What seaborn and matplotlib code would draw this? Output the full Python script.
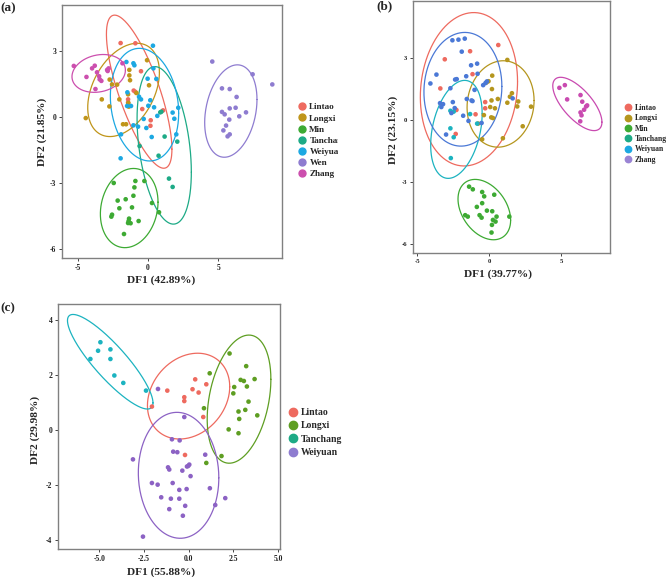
import numpy as np
import pandas as pd
import matplotlib
matplotlib.use("Agg")
import matplotlib.pyplot as plt
import seaborn as sns
from matplotlib.lines import Line2D
from matplotlib.patches import Rectangle

# ---------------- data: panel (a) ----------------
A_GROUPS = ["Lintao", "Longxi", "Min", "Tanchang", "Weiyuan", "Wen", "Zhang"]
A_X = {
    "Lintao": [-1.95, -0.90, -0.50, -1.02, -0.90, -1.42, -1.42, -0.41, 1.07, 0.19, 0.17],
    "Longxi": [-0.07, -1.33, -1.33, -2.73, -1.28, -2.56, -2.20, -1.42, -3.29, -2.04, -2.75,
               -1.40, -1.37, -4.43, -1.78, -1.56, 0.07, -0.83],
    "Min": [-2.44, -0.90, -0.26, -0.97, -1.04, -2.16, -1.59, -2.04, -1.14, 0.28, 0.78,
            -2.56, -2.61, -1.35, -1.38, -1.24, -1.42, -0.67, -1.71],
    "Tanchang": [0.87, 0.95, 1.18, 2.08, 0.75, -0.60, 1.49, 1.75],
    "Weiyuan": [0.35, -1.54, -1.04, -0.97, -0.03, 0.59, -1.47, -1.49, -1.21, -0.64, -0.50,
                0.16, 0.02, 0.43, 0.66, 1.75, 2.15, 1.87, -0.31, -1.04, -0.71, -0.12,
                0.26, 2.01, -1.92, -1.95, 0.38],
    "Wen": [4.57, 5.26, 5.81, 7.44, 8.84, 6.30, 5.81, 6.23, 5.26, 5.45, 6.97, 6.49, 5.78,
            5.55, 5.36, 5.81, 5.66],
    "Zhang": [-5.28, -4.38, -3.98, -3.79, -3.63, -3.48, -3.44, -3.32, -3.74, -2.91, -2.80,
              -2.87, -1.82],
}
A_Y = {
    "Lintao": [3.36, 3.35, 2.08, 1.20, 1.14, 0.80, 0.65, 0.36, 0.30, -0.15, -0.40],
    "Longxi": [2.58, 2.14, 1.89, 1.70, 1.67, 1.48, 1.47, 1.03, 0.80, 0.80, 0.48,
               0.64, 0.47, -0.05, -0.33, -0.33, 1.44, 1.09],
    "Min": [-3.00, -2.91, -2.91, -3.20, -3.58, -3.80, -3.74, -4.15, -4.11, -3.91, -4.33,
            -4.44, -4.53, -4.62, -4.73, -4.83, -4.82, -4.73, -5.32],
    "Tanchang": [0.21, 0.24, -0.89, -1.12, -1.76, -1.32, -2.80, -3.18],
    "Weiyuan": [3.24, 2.50, 2.44, 2.35, 1.74, 1.73, 1.12, 0.50, 0.50, 0.92, 0.80,
                0.76, 0.51, 0.44, 0.05, 0.20, 0.42, -0.08, -0.09, -0.38, -0.44, -0.50,
                -0.91, -0.79, -0.79, -1.88, 2.21],
    "Wen": [2.52, 1.30, 1.27, 1.94, 1.48, 0.91, 0.39, 0.42, 0.23, 0.12, 0.21, 0.03, -0.12,
            -0.39, -0.61, -0.79, -0.88],
    "Zhang": [2.32, 1.82, 2.21, 2.33, 2.03, 1.85, 1.71, 1.64, 1.27, 2.14, 2.21, 2.09, 2.44],
}
# ellipse: centre x, centre y, half x-extent, half y-extent, correlation
A_ELLIPSE = {
    "Lintao": (-0.63, 1.15, 2.33, 3.48, -0.75),
    "Longxi": (-1.74, 1.23, 2.55, 2.12, 0.38),
    "Min": (-1.34, -4.14, 2.05, 1.80, 0.15),
    "Tanchang": (1.15, -1.29, 1.93, 3.58, -0.34),
    "Weiyuan": (-0.25, 0.56, 2.43, 2.56, -0.15),
    "Wen": (5.89, 0.27, 1.86, 2.10, 0.25),
    "Zhang": (-3.51, 1.98, 1.90, 0.86, 0.17),
}
A_COLORS = ["#EE6A5F", "#C0951A", "#3DAA33", "#1DAA86", "#1CA8E2", "#8E7CD0", "#CC4FAE"]
A_XTICKS = [-5, 0, 5]
A_YTICKS = [-6, -3, 0, 3]

# ---------------- data: panel (b) ----------------
B_GROUPS = ["Lintao", "Longxi", "Min", "Tanchang", "Weiyuan", "Zhang"]
B_X = {
    "Lintao": [0.63, -1.33, -3.09, -3.40, -1.16, -2.28, -2.33, -0.95, -0.28, -0.28],
    "Longxi": [1.26, 0.21, -0.19, -0.05, 0.19, 0.60, 0.16, 0.07, 0.40, 0.14, 0.26, -0.37,
               -0.77, -0.49, 0.95, 2.33, 2.91, 2.02, 1.95, 1.58, 1.44, 1.26],
    "Min": [-1.40, -1.14, -0.49, -0.35, 0.35, -0.49, -0.86, -0.16, -0.67, -0.53, 0.21,
            0.26, 0.51, 0.44, 0.19, 0.16, -1.67, -1.49, 1.40],
    "Tanchang": [-2.70, -2.70, -2.47, -2.67, -0.84, -1.33, -2.47],
    "Weiyuan": [-1.70, -2.14, -2.56, -1.91, -1.26, -0.84, -0.81, -3.67, -4.09, -2.37,
                -2.26, -2.70, -1.60, -1.02, -0.42, -0.26, -0.16, -1.56, -1.23, -1.16,
                1.63, -3.42, -3.21, -3.33, -2.53, -1.81, -1.44, -0.53, -3.00, -2.40, -2.63],
    "Zhang": [4.88, 5.26, 5.42, 6.35, 6.47, 6.74, 6.81, 6.60, 6.35, 6.42, 6.33],
}
B_Y = {
    "Lintao": [3.61, 3.31, 2.92, 1.51, 2.20, 0.47, -0.69, 0.26, 0.85, 0.55],
    "Longxi": [2.89, 2.13, 1.80, 1.86, 1.48, 1.00, 0.93, 0.61, 0.55, 0.11, 0.08, 0.22,
               -0.19, -0.95, -0.90, -0.32, 0.63, 0.88, 0.64, 1.28, 1.11, 0.82],
    "Min": [-3.24, -3.37, -3.50, -3.71, -3.63, -4.04, -4.22, -4.40, -4.62, -4.74, -4.43,
            -4.85, -4.69, -4.93, -5.09, -5.46, -4.62, -4.69, -4.69],
    "Tanchang": [0.43, -0.42, -0.85, -1.86, -0.19, 0.27, 0.39],
    "Weiyuan": [3.92, 3.87, 3.84, 3.29, 2.63, 2.71, 2.22, 2.18, 1.75, 1.94,
                1.96, 1.52, 2.10, 1.44, 1.67, 1.77, 1.85, 1.00, 0.93, 0.90,
                1.03, 0.80, 0.75, 0.61, 0.85, 0.19, -0.06, -0.16, -0.72, 0.56, 0.32],
    "Zhang": [1.54, 1.67, 0.98, 1.19, 0.87, 0.64, 0.69, 0.48, 0.35, 0.21, -0.08],
}
B_ELLIPSE = {
    "Lintao": (-1.41, 1.47, 3.38, 3.71, 0.10),
    "Longxi": (0.79, 0.76, 2.33, 2.09, 0.08),
    "Min": (-0.34, -4.35, 1.83, 1.46, -0.35),
    "Tanchang": (-2.28, -0.47, 1.79, 2.37, 0.32),
    "Weiyuan": (-1.83, 1.47, 2.71, 2.75, 0.05),
    "Zhang": (6.13, 0.76, 1.71, 1.29, -0.68),
}
B_COLORS = ["#EE6A5F", "#B5961E", "#3DAA33", "#1CB3C0", "#4A78D6", "#C94AB0"]
B_LEGEND_COLORS = ["#EE6A5F", "#B5961E", "#3DAA33", "#1DAA86", "#1CA8E2", "#9A84D4"]
B_XTICKS = [-5, 0, 5]
B_YTICKS = [-6, -3, 0, 3]

# ---------------- data: panel (c) ----------------
C_GROUPS = ["Lintao", "Longxi", "Tanchang", "Weiyuan"]
C_X = {
    "Lintao": [-2.06, -1.20, 0.36, 0.21, 0.55, -0.25, -0.25, 0.98, 0.81, -0.21],
    "Longxi": [1.17, 2.28, 3.21, 2.90, 3.08, 3.68, 2.54, 2.49, 3.25, 3.34, 0.85, 2.78,
               3.16, 3.83, 2.82, 2.23, 2.78, 1.83, 0.98],
    "Tanchang": [-4.94, -5.07, -4.38, -5.50, -4.38, -4.16, -3.66, -2.39],
    "Weiyuan": [-1.72, -0.25, -0.94, -0.51, -0.87, -0.64, -3.12, 0.92, -1.16, -1.09, 0.03,
                -0.03, -0.10, -0.36, 0.10, -2.06, -1.74, -0.90, -0.53, -0.12, 1.18, -1.54,
                -1.00, -0.53, 1.48, -1.09, -0.20, -0.33, 2.04, -2.56],
}
C_Y = {
    "Lintao": [0.85, 1.43, 1.84, 1.48, 1.36, 1.19, 1.05, 1.66, 0.47, -0.91],
    "Longxi": [2.06, 2.78, 2.32, 1.82, 1.78, 1.85, 1.56, 1.33, 1.58, 1.03, 0.79, 0.67,
               0.73, 0.53, 0.40, 0.02, -0.12, -0.95, -1.20],
    "Tanchang": [3.19, 2.88, 2.93, 2.58, 2.58, 1.98, 1.71, 1.43],
    "Weiyuan": [1.49, 0.47, -0.34, -0.38, -0.79, -0.81, -1.07, -0.90, -1.36, -1.44, -1.26,
                -1.31, -1.33, -1.48, -1.68, -1.93, -1.99, -1.93, -2.18, -2.15, -2.12, -2.45,
                -2.50, -2.50, -2.73, -2.88, -2.76, -3.12, -2.48, -3.88],
}
C_ELLIPSE = {
    "Lintao": (-0.01, 1.23, 2.30, 1.56, 0.22),
    "Longxi": (2.81, 1.12, 1.78, 2.33, 0.31),
    "Tanchang": (-4.39, 2.48, 2.39, 1.72, -0.87),
    "Weiyuan": (-0.57, -1.65, 2.25, 2.29, -0.04),
}
C_COLORS = ["#EE6A5F", "#5E9E22", "#1CB3C0", "#8C62C4"]
C_LEGEND_COLORS = ["#EE6A5F", "#5E9E22", "#1DAA86", "#8E7CD0"]
C_XTICKS = [-5.0, -2.5, 0.0, 2.5, 5.0]
C_YTICKS = [-4, -2, 0, 2, 4]

# ---------------- style ----------------
sns.set_theme(style="white")
plt.rcParams["font.family"] = ["Liberation Serif", "DejaVu Serif"]
plt.rcParams["font.weight"] = "bold"

W, H = 669, 577
fig = plt.figure(figsize=(W / 100, H / 100), dpi=100)


def px_axes(l, t, r, b):
    return fig.add_axes([l / W, 1 - b / H, (r - l) / W, (b - t) / H])


def draw_panel(ax, groups, xs, ys, ell, colors, xlim, ylim, xticks, yticks, xfmt, yfmt, tfs):
    rows = []
    for g in groups:
        for xv, yv in zip(xs[g], ys[g]):
            rows.append((g, xv, yv))
    df = pd.DataFrame(rows, columns=["group", "x", "y"])
    pal = dict(zip(groups, colors))
    for g in groups:
        cx, cy, wx, wy, rho = ell[g]
        t = np.linspace(0, 2 * np.pi, 300)
        ex = cx + wx * np.cos(t)
        ey = cy + wy * (rho * np.cos(t) + np.sqrt(1 - rho ** 2) * np.sin(t))
        ax.plot(ex, ey, color=pal[g], lw=0.9, zorder=2)
    sns.scatterplot(data=df, x="x", y="y", hue="group", palette=pal, s=11,
                    linewidth=0, legend=False, ax=ax, zorder=3)
    ax.set_xlim(*xlim)
    ax.set_ylim(*ylim)
    ax.set_xticks(xticks)
    ax.set_yticks(yticks)
    ax.set_xticklabels([xfmt.format(v) for v in xticks], fontsize=tfs, fontweight="bold")
    ax.set_yticklabels([yfmt.format(v) for v in yticks], fontsize=tfs, fontweight="bold")
    ax.set_xlabel("")
    ax.set_ylabel("")
    ax.tick_params(axis="both", which="both", direction="out", length=2.5, width=0.7,
                   color="#444444", labelcolor="#222222", pad=1.5, bottom=True, left=True)
    for sp in ax.spines.values():
        sp.set_color("#808080")
        sp.set_linewidth(1.0)
    ax.set_facecolor("white")


def add_legend(ax, groups, colors, x, y, fs, ms, spacing):
    handles = [Line2D([], [], marker="o", ls="", color=c, markersize=ms) for c in colors]
    ax.legend(handles, groups, loc="upper left", bbox_to_anchor=(x / W, 1 - y / H),
              bbox_transform=fig.transFigure, frameon=False, borderpad=0,
              borderaxespad=0, handlelength=1.0, handletextpad=0.35,
              labelspacing=spacing, prop={"family": "Liberation Serif", "weight": "bold", "size": fs})


# panel (a)
ax_a = px_axes(62, 5, 282, 258)
draw_panel(ax_a, A_GROUPS, A_X, A_Y, A_ELLIPSE, A_COLORS, (-6.12, 9.53), (-6.41, 5.09),
           A_XTICKS, A_YTICKS, "{:g}", "{:g}", 5.5)
add_legend(ax_a, A_GROUPS, A_COLORS, 297, 103, 6.6, 5.0, 0.3)

# panel (b)
ax_b = px_axes(413, 1, 610, 253)
draw_panel(ax_b, B_GROUPS, B_X, B_Y, B_ELLIPSE, B_COLORS, (-5.3, 8.4), (-6.45, 5.74),
           B_XTICKS, B_YTICKS, "{:g}", "{:g}", 4.8)
add_legend(ax_b, B_GROUPS, B_LEGEND_COLORS, 624, 104, 5.6, 4.6, 0.3)

# panel (c)
ax_c = px_axes(58, 304, 280, 549)
draw_panel(ax_c, C_GROUPS, C_X, C_Y, C_ELLIPSE, C_COLORS, (-7.31, 5.1), (-4.33, 4.58),
           C_XTICKS, C_YTICKS, "{:.1f}", "{:g}", 5.5)
add_legend(ax_c, C_GROUPS, C_LEGEND_COLORS, 288, 408, 7.0, 6.0, 0.45)

# white band where panel (b)'s image covers the right end of legend (a)
fig.patches.append(Rectangle((338 / W, 1 - 190 / H), 46 / W, 100 / H,
                             transform=fig.transFigure, facecolor="white",
                             edgecolor="none", zorder=1))

lab = dict(fontweight="bold", fontsize=8.2, ha="center", va="center", zorder=5)
fig.text(161 / W, 1 - 280 / H, "DF1 (42.89%)", **lab)
fig.text(42 / W, 1 - 132 / H, "DF2 (21.85%)", rotation=90, **lab)
fig.text(498 / W, 1 - 274 / H, "DF1 (39.77%)", **lab)
fig.text(393 / W, 1 - 130 / H, "DF2 (23.15%)", rotation=90, **lab)
fig.text(161 / W, 1 - 572 / H, "DF1 (55.88%)", **lab)
fig.text(35 / W, 1 - 430 / H, "DF2 (29.98%)", rotation=90, **lab)

pl = dict(fontweight="bold", fontsize=9.5, ha="left", va="center", zorder=5)
fig.text(0 / W, 1 - 8 / H, "(a)", **pl)
fig.text(376 / W, 1 - 6 / H, "(b)", **pl)
fig.text(0 / W, 1 - 308 / H, "(c)", **pl)

fig.savefig("out.png", dpi=100, facecolor="white")
